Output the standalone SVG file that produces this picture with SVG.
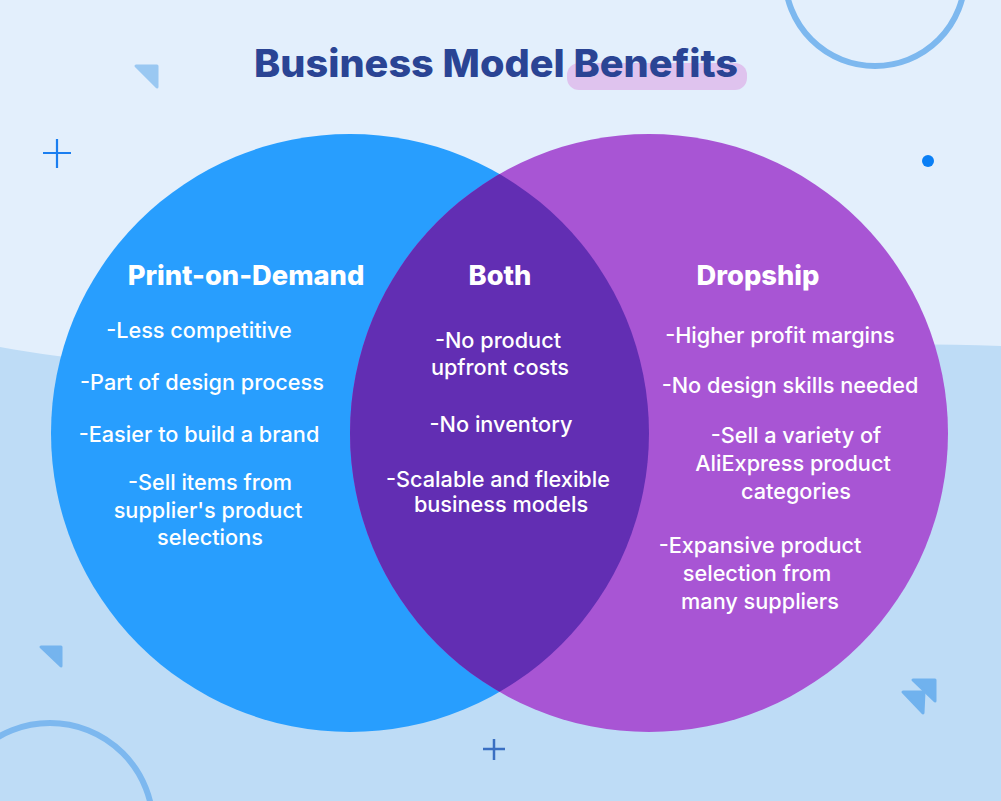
<svg xmlns="http://www.w3.org/2000/svg" width="1001" height="801" viewBox="0 0 1001 801">
<style>
.body{font-family:Inter,"Noto Sans","Liberation Sans",sans-serif;font-weight:500;font-size:21.7px;fill:#ffffff;text-anchor:middle}
.head{font-family:Inter,"Noto Sans","Liberation Sans",sans-serif;font-weight:800;font-size:27.3px;fill:#ffffff;text-anchor:middle}
</style>
<defs>
<clipPath id="clipL"><circle cx="350" cy="433" r="299"/></clipPath>
</defs>
<rect width="1001" height="801" fill="#e3effc"/>
<path d="M0,347 C250,395 650,335 1001,346 L1001,801 L0,801 Z" fill="#bedcf6"/>
<g id="decorations">
<circle cx="875" cy="-24" r="90" fill="none" stroke="#7db8ef" stroke-width="6"/>
<circle cx="50" cy="826" r="103" fill="none" stroke="#7db8ef" stroke-width="6"/>
<circle cx="928" cy="161" r="6" fill="#0a7ff5"/>
<path d="M136,66 L157,66 L157,87 Z" fill="#9ac8f2" stroke="#9ac8f2" stroke-width="3" stroke-linejoin="round"/>
<path d="M41,647 L61,647 L61,666 Z" fill="#75b4ee" stroke="#75b4ee" stroke-width="3" stroke-linejoin="round"/>
<path d="M913,680 L935,680 L935,701 Z" fill="#70b2ee" stroke="#70b2ee" stroke-width="3" stroke-linejoin="round"/>
<path d="M903,692 L924,692 L923,713 Z" fill="#70b2ee" stroke="#70b2ee" stroke-width="3" stroke-linejoin="round"/>
<path d="M57,139 V168 M43,153 H71" stroke="#1a7ef0" stroke-width="2.2" fill="none"/>
<path d="M494,739 V760 M483,749 H505" stroke="#3a6fc2" stroke-width="2.5" fill="none"/>
</g>
<g id="title">
<rect x="567" y="63" width="180" height="27" rx="12" fill="#dfc3ee"/>
<text x="496" y="77" text-anchor="middle" font-family="Inter,'Noto Sans','Liberation Sans',sans-serif" font-weight="800" font-size="38" fill="#2a4494" textLength="484" lengthAdjust="spacingAndGlyphs">Business Model Benefits</text>
</g>
<g id="node-pod">
<circle cx="350" cy="433" r="299" fill="#289efe"/>
</g>
<g id="node-dropship">
<circle cx="649" cy="433" r="299" fill="#a855d4"/>
</g>
<g id="node-both">
<circle cx="649" cy="433" r="299" fill="#622eb3" clip-path="url(#clipL)"/>
</g>
<g id="text-pod">
<text class="head" x="246" y="285">Print-on-Demand</text>
<text class="body" x="199" y="338">-Less competitive</text>
<text class="body" x="202" y="390">-Part of design process</text>
<text class="body" x="199" y="442">-Easier to build a brand</text>
<text class="body" x="210" y="490">-Sell items from</text>
<text class="body" x="208" y="518">supplier's product</text>
<text class="body" x="210" y="545">selections</text>
</g>
<g id="text-both">
<text class="head" x="500" y="285">Both</text>
<text class="body" x="498" y="348">-No product</text>
<text class="body" x="500" y="375">upfront costs</text>
<text class="body" x="501" y="432">-No inventory</text>
<text class="body" x="498" y="487">-Scalable and flexible</text>
<text class="body" x="501" y="512">business models</text>
</g>
<g id="text-dropship">
<text class="head" x="758" y="285">Dropship</text>
<text class="body" x="780" y="343">-Higher profit margins</text>
<text class="body" x="790" y="393">-No design skills needed</text>
<text class="body" x="796" y="443">-Sell a variety of</text>
<text class="body" x="793" y="471">AliExpress product</text>
<text class="body" x="796" y="499">categories</text>
<text class="body" x="760" y="553">-Expansive product</text>
<text class="body" x="757" y="581">selection from</text>
<text class="body" x="760" y="609">many suppliers</text>
</g>
<g id="connectors"/>
</svg>
